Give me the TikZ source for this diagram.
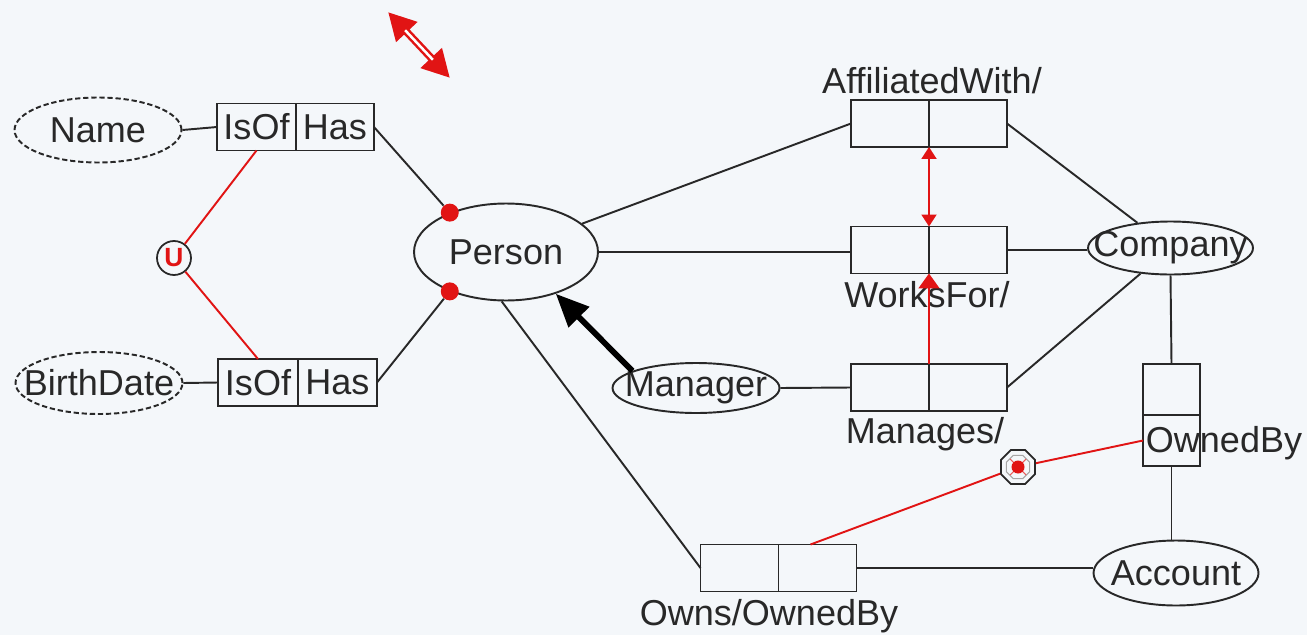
\documentclass[tikz,border=0pt]{standalone}
\usepackage{fontspec}
\setmainfont{Liberation Sans}
\usetikzlibrary{arrows.meta,shapes.geometric}
\definecolor{bg}{RGB}{244,247,250}
\definecolor{ink}{RGB}{40,40,40}
\definecolor{rd}{RGB}{225,20,20}
\tikzset{
  lbl/.style={font=\fontsize{20.5}{24}\selectfont, text=ink, inner sep=0pt},
  ent/.style={ellipse, draw=ink, line width=1.1pt, inner sep=0pt, fill=bg},
  val/.style={ent, dash pattern=on 3pt off 1.6pt},
  cell/.style={rectangle, draw=ink, line width=1.1pt, minimum width=1.56cm, minimum height=0.94cm, inner sep=0pt, outer sep=0pt, font=\fontsize{20.5}{24}\selectfont, text=ink},
  vcell/.style={cell, minimum width=1.14cm, minimum height=1.02cm},
  conn/.style={draw=ink, line width=1.1pt},
  rconn/.style={draw=rd, line width=1.1pt},
  dot/.style={circle, fill=rd, inner sep=0pt, minimum size=0.36cm}
}
\begin{document}
\begin{tikzpicture}[x=0.02cm,y=-0.02cm]
\fill[bg] (0,0) rectangle (1307,635);
\useasboundingbox (0,0) rectangle (1307,635);

% value types
\node[val, minimum width=3.34cm, minimum height=1.3cm, label={[lbl]center:Name}] (name) at (98,130) {};
\node[val, minimum width=3.34cm, minimum height=1.24cm, label={[lbl]center:BirthDate}] (bdate) at (99,383) {};

% fact boxes left
\node[cell, minimum width=1.58cm] (isof1) at (256.5,127) {IsOf};
\node[cell, minimum width=1.56cm, anchor=west] (has1) at (isof1.east) {Has};
\node[cell, minimum width=1.6cm] (isof2) at (258,382.5) {IsOf};
\node[cell, minimum width=1.58cm, anchor=west] (has2) at (isof2.east) {Has};

% entities
\node[ent, minimum width=3.68cm, minimum height=1.94cm, label={[lbl]center:Person}] (person) at (506,252) {};
\node[ent, minimum width=3.34cm, minimum height=1.0cm, label={[lbl]center:Manager}] (manager) at (696,388) {};
\node[ent, minimum width=3.3cm, minimum height=1.06cm, label={[lbl]center:Company}] (comp) at (1170.5,248) {};
\node[ent, minimum width=3.3cm, minimum height=1.3cm, label={[lbl]center:Account}] (acct) at (1176,573) {};

% fact boxes right
\node[cell] (aff1) at (890,123.5) {};
\node[cell, anchor=west] (aff2) at (aff1.east) {};
\node[cell] (works1) at (890,250) {};
\node[cell, anchor=west] (works2) at (works1.east) {};
\node[cell] (man1) at (890,387.5) {};
\node[cell, anchor=west] (man2) at (man1.east) {};
\node[cell] (own1) at (739.5,568) {};
\node[cell, anchor=west] (own2) at (own1.east) {};
\node[vcell] (ob1) at (1171.5,389.5) {};
\node[vcell, anchor=north] (ob2) at (ob1.south) {};

% labels
\node[lbl, anchor=base] (laff) at (932,93) {AffiliatedWith/};
\node[lbl, anchor=base] (lworks) at (927,307) {WorksFor/};
\node[lbl, anchor=base] (lman) at (925,443) {Manages/};
\node[lbl, anchor=base] (lown) at (769,625) {Owns/OwnedBy};
\node[lbl, anchor=base] (lob) at (1224,452) {OwnedBy};

% connectors left
\draw[conn] (name.east) -- (isof1.west);
\draw[conn] (bdate.east) -- (isof2.west);
\node[dot] (d1) at (person.145) {};
\node[dot] (d2) at (person.215) {};
\draw[conn] (has1.east) -- (d1);
\draw[conn] (has2.east) -- (d2);

% union constraint
\node[circle, draw=ink, line width=1pt, fill=bg, minimum size=0.68cm, inner sep=0pt, text=rd, font=\fontsize{15}{15}\selectfont\bfseries] (u) at (174,258) {U};
\draw[rconn] (isof1.south) -- (u);
\draw[rconn] (u) -- (isof2.north);

% connectors middle
\draw[conn] (person) -- (aff1.west);
\draw[conn] (person.east) -- (person.east -| works1.west);
\draw[conn] (person.265) -- (own1.west);
\draw[conn] (manager.east) -- (man1.west);
\draw[black, line width=3.3pt, -{Triangle[length=0.66cm,width=0.56cm]}] (manager.165) -- (person.-40);

% connectors right
\draw[conn] (aff2.east) -- (comp);
\draw[conn] (works2.east) -- (works2.east -| comp.west);
\draw[conn] (man2.east) -- (comp);
\draw[conn] (comp.south) -- (ob1.north);
\draw[conn] (ob2.south) -- (ob2.south |- acct.north);
\draw[conn] (own2.east) -- (own2.east -| acct.west);

% subset arrows
\draw[rconn, {Triangle[length=0.24cm,width=0.3cm]}-{Triangle[length=0.24cm,width=0.3cm]}] (aff1.south east) -- (works1.north east);
\draw[rconn, -{Triangle[length=0.3cm,width=0.42cm]}] (man1.north east) -- (works1.south east);

% exclusion constraint
\node[regular polygon, regular polygon sides=8, draw=ink, line width=1pt, fill=bg, minimum size=0.74cm, inner sep=0pt] (excl) at (1018,467) {};
\node[regular polygon, regular polygon sides=8, draw=gray!70, line width=0.6pt, minimum size=0.5cm, inner sep=0pt] (excl2) at (excl.center) {};
\draw[rd!70, line width=0.6pt] ([shift={(-8,-8)}]excl.center) -- ([shift={(8,8)}]excl.center);
\draw[rd!70, line width=0.6pt] ([shift={(-8,8)}]excl.center) -- ([shift={(8,-8)}]excl.center);
\fill[rd] (excl.center) circle (0.13cm);
\draw[rconn] (excl) -- ([xshift=-0.14cm]own2.north);
\draw[rconn] (excl) -- (ob2.west);

% double arrow at top
\coordinate (da1) at (388,12);
\coordinate (da2) at (450,78);
\draw[rd, line width=0.15cm, {Triangle[length=0.55cm,width=0.55cm]}-{Triangle[length=0.55cm,width=0.55cm]}] (da1) -- (da2);
\draw[white, line width=0.05cm, shorten <=0.5cm, shorten >=0.5cm] (da1) -- (da2);
\end{tikzpicture}
\end{document}
